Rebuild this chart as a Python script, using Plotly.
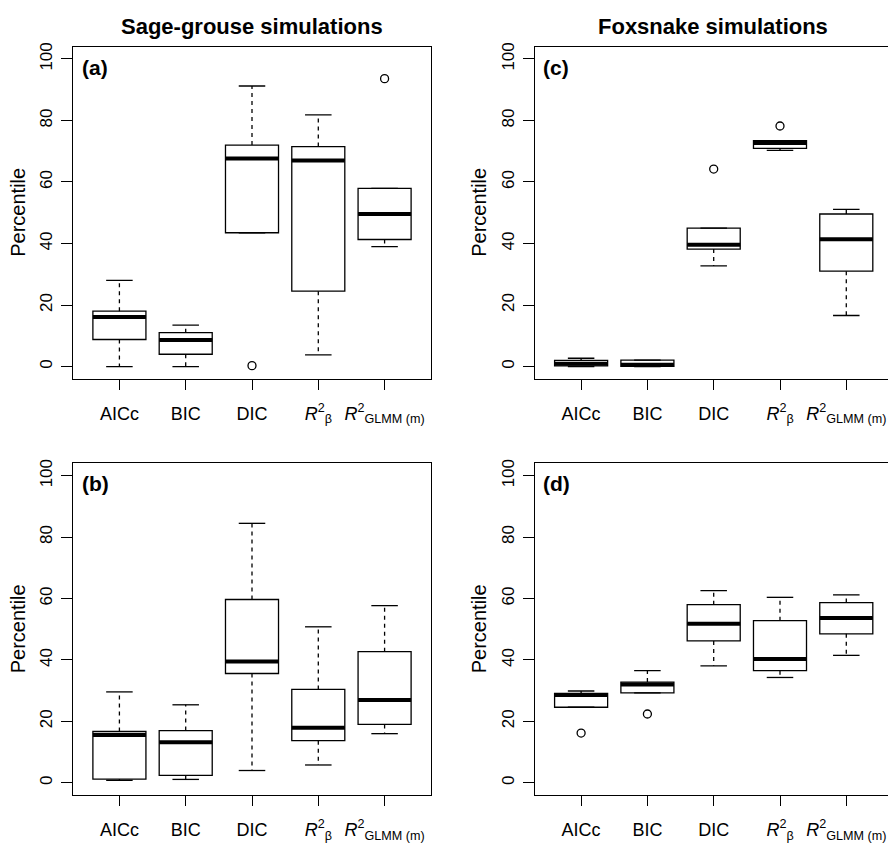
import plotly.graph_objects as go

# ---------------- data ----------------
categories = ["AICc", "BIC", "DIC", "<i>R</i><sup>2</sup><sub>β</sub>",
              "<i>R</i><sup>2</sup><sub>GLMM (m)</sub>"]
positions = [1, 2, 3, 4, 5]
y_ticks = [0, 20, 40, 60, 80, 100]

# (a) Sage-grouse, top
a_lower = [0.0, 0.0, 43.5, 3.8, 39.0]
a_q1 = [8.8, 4.0, 43.5, 24.5, 41.3]
a_median = [16.1, 8.6, 67.6, 67.0, 49.6]
a_q3 = [18.0, 11.0, 72.0, 71.5, 57.9]
a_upper = [28.0, 13.5, 91.2, 81.8, 57.9]
a_outliers = [[], [], [0.3], [], [93.6]]

# (b) Sage-grouse, bottom
b_lower = [0.8, 1.1, 4.0, 5.8, 16.0]
b_q1 = [1.2, 2.4, 35.6, 13.7, 19.0]
b_median = [15.6, 13.2, 39.5, 17.9, 27.0]
b_q3 = [16.7, 17.0, 59.7, 30.4, 42.7]
b_upper = [29.6, 25.4, 84.5, 50.8, 57.7]
b_outliers = [[], [], [], [], []]

# (c) Foxsnake, top
c_lower = [0.0, 0.0, 32.7, 70.3, 16.6]
c_q1 = [0.2, 0.1, 38.2, 70.9, 31.0]
c_median = [0.9, 0.6, 39.6, 72.7, 41.4]
c_q3 = [2.0, 2.1, 45.0, 73.4, 49.6]
c_upper = [2.7, 2.1, 45.0, 73.4, 51.1]
c_outliers = [[], [], [64.2], [78.2], []]

# (d) Foxsnake, bottom
d_lower = [24.6, 29.3, 38.1, 34.3, 41.5]
d_q1 = [24.6, 29.3, 46.2, 36.5, 48.5]
d_median = [28.6, 32.0, 51.8, 40.3, 53.7]
d_q3 = [29.1, 32.8, 58.0, 52.8, 58.7]
d_upper = [29.9, 36.5, 62.6, 60.4, 61.2]
d_outliers = [[16.2], [22.4], [], [], []]

panel_titles = ["Sage-grouse simulations", "Foxsnake simulations"]
panel_letters = ["(a)", "(b)", "(c)", "(d)"]
y_title = "Percentile"

# ---------------- layout geometry ----------------
W, H = 888, 843
FONT = "Liberation Sans, Arial, Helvetica, sans-serif"
BOX_HALF = 0.4
CAP_HALF = 0.2
LW = 1.3

left_dom = [73 / W, 431 / W]
right_dom = [534.7 / W, 1.0]
unit_px = (431 - 73) / 5.4
right_max = 0.3 + (W - 534.7) / unit_px
top_dom = [1 - 378 / H, 1 - 43 / H]
bot_dom = [1 - 797.7 / H, 1 - 463.3 / H]

panels = [
    dict(ax="", dom_x=left_dom, dom_y=top_dom, xr=[0.3, 5.7], mirror=True,
         data=(a_lower, a_q1, a_median, a_q3, a_upper, a_outliers)),
    dict(ax="2", dom_x=left_dom, dom_y=bot_dom, xr=[0.3, 5.7], mirror=True,
         data=(b_lower, b_q1, b_median, b_q3, b_upper, b_outliers)),
    dict(ax="3", dom_x=right_dom, dom_y=top_dom, xr=[0.3, right_max], mirror=False,
         data=(c_lower, c_q1, c_median, c_q3, c_upper, c_outliers)),
    dict(ax="4", dom_x=right_dom, dom_y=bot_dom, xr=[0.3, right_max], mirror=False,
         data=(d_lower, d_q1, d_median, d_q3, d_upper, d_outliers)),
]

fig = go.Figure()
layout = dict(width=W, height=H, margin=dict(l=0, r=0, t=0, b=0),
              paper_bgcolor="white", plot_bgcolor="white", showlegend=False,
              font=dict(family=FONT, color="black"))

for p in panels:
    ax = p["ax"]
    xref, yref = "x" + ax, "y" + ax
    lower, q1, med, q3, upper, outs = p["data"]

    # whiskers (dashed)
    wx, wy = [], []
    for pos, lo, a1, a3, up in zip(positions, lower, q1, q3, upper):
        wx += [pos, pos, None, pos, pos, None]
        wy += [a3, up, None, a1, lo, None]
    fig.add_trace(go.Scatter(x=wx, y=wy, mode="lines", xaxis=xref, yaxis=yref,
                             line=dict(color="black", width=LW, dash="4px,4px"),
                             hoverinfo="skip"))
    # staples (solid)
    sx, sy = [], []
    for pos, lo, up in zip(positions, lower, upper):
        sx += [pos - CAP_HALF, pos + CAP_HALF, None, pos - CAP_HALF, pos + CAP_HALF, None]
        sy += [up, up, None, lo, lo, None]
    fig.add_trace(go.Scatter(x=sx, y=sy, mode="lines", xaxis=xref, yaxis=yref,
                             line=dict(color="black", width=LW), hoverinfo="skip"))
    # boxes
    fig.add_trace(go.Box(x=positions, q1=q1, median=med, q3=q3,
                         lowerfence=q1, upperfence=q3, width=2 * BOX_HALF,
                         boxpoints=False, whiskerwidth=0,
                         fillcolor="white", line=dict(color="black", width=LW),
                         xaxis=xref, yaxis=yref, hoverinfo="skip"))
    # thick medians
    mx, my = [], []
    for pos, m in zip(positions, med):
        mx += [pos - BOX_HALF, pos + BOX_HALF, None]
        my += [m, m, None]
    fig.add_trace(go.Scatter(x=mx, y=my, mode="lines", xaxis=xref, yaxis=yref,
                             line=dict(color="black", width=4), hoverinfo="skip"))
    # outliers
    ox, oy = [], []
    for pos, o in zip(positions, outs):
        for v in o:
            ox.append(pos)
            oy.append(v)
    fig.add_trace(go.Scatter(x=ox, y=oy, mode="markers", xaxis=xref, yaxis=yref,
                             marker=dict(symbol="circle-open", size=8, color="black",
                                         line=dict(width=1.3)),
                             hoverinfo="skip"))

    layout["xaxis" + ax] = dict(domain=p["dom_x"], range=p["xr"], anchor=yref,
                                tickvals=positions, ticktext=categories,
                                ticks="outside", ticklen=10, tickwidth=LW,
                                tickcolor="black", showgrid=False, zeroline=False,
                                showline=True, linecolor="black", linewidth=LW,
                                mirror=True, ticklabelstandoff=8,
                                tickfont=dict(size=18, family=FONT, color="black"))
    layout["yaxis" + ax] = dict(domain=p["dom_y"], range=[-4, 104], anchor=xref,
                                tickvals=y_ticks, ticks="outside", ticklen=11,
                                tickwidth=LW, tickcolor="black", tickangle=-90,
                                showgrid=False, zeroline=False, showline=True,
                                linecolor="black", linewidth=LW,
                                mirror=p["mirror"], ticklabelstandoff=2,
                                tickfont=dict(size=17, family=FONT, color="black"))

annotations = []
# column titles
for title, cx in zip(panel_titles, [252, 713]):
    annotations.append(dict(text="<b>" + title + "</b>", x=cx / W, y=1 - 23 / H,
                            xref="paper", yref="paper", showarrow=False,
                            xanchor="center", yanchor="middle",
                            font=dict(size=22, family=FONT, color="black")))
# panel letters
for letter, (lx, ly) in zip(panel_letters, [(80, 64), (80, 484), (541, 64), (541, 484)]):
    annotations.append(dict(text="<b>" + letter + "</b>", x=lx / W, y=1 - ly / H,
                            xref="paper", yref="paper", showarrow=False,
                            xanchor="left", yanchor="middle",
                            font=dict(size=21, family=FONT, color="black")))
# y-axis titles
for tx, ty in [(18, 210.5), (18, 630.5), (479, 210.5), (479, 630.5)]:
    annotations.append(dict(text=y_title, x=tx / W, y=1 - ty / H, xref="paper",
                            yref="paper", showarrow=False, textangle=-90,
                            xanchor="center", yanchor="middle",
                            font=dict(size=20, family=FONT, color="black")))
layout["annotations"] = annotations

fig.update_layout(**layout)
fig.write_html("out.html", config={"displayModeBar": False},
               post_script="document.body.style.margin='0';"
                           "document.body.style.overflow='hidden';")
